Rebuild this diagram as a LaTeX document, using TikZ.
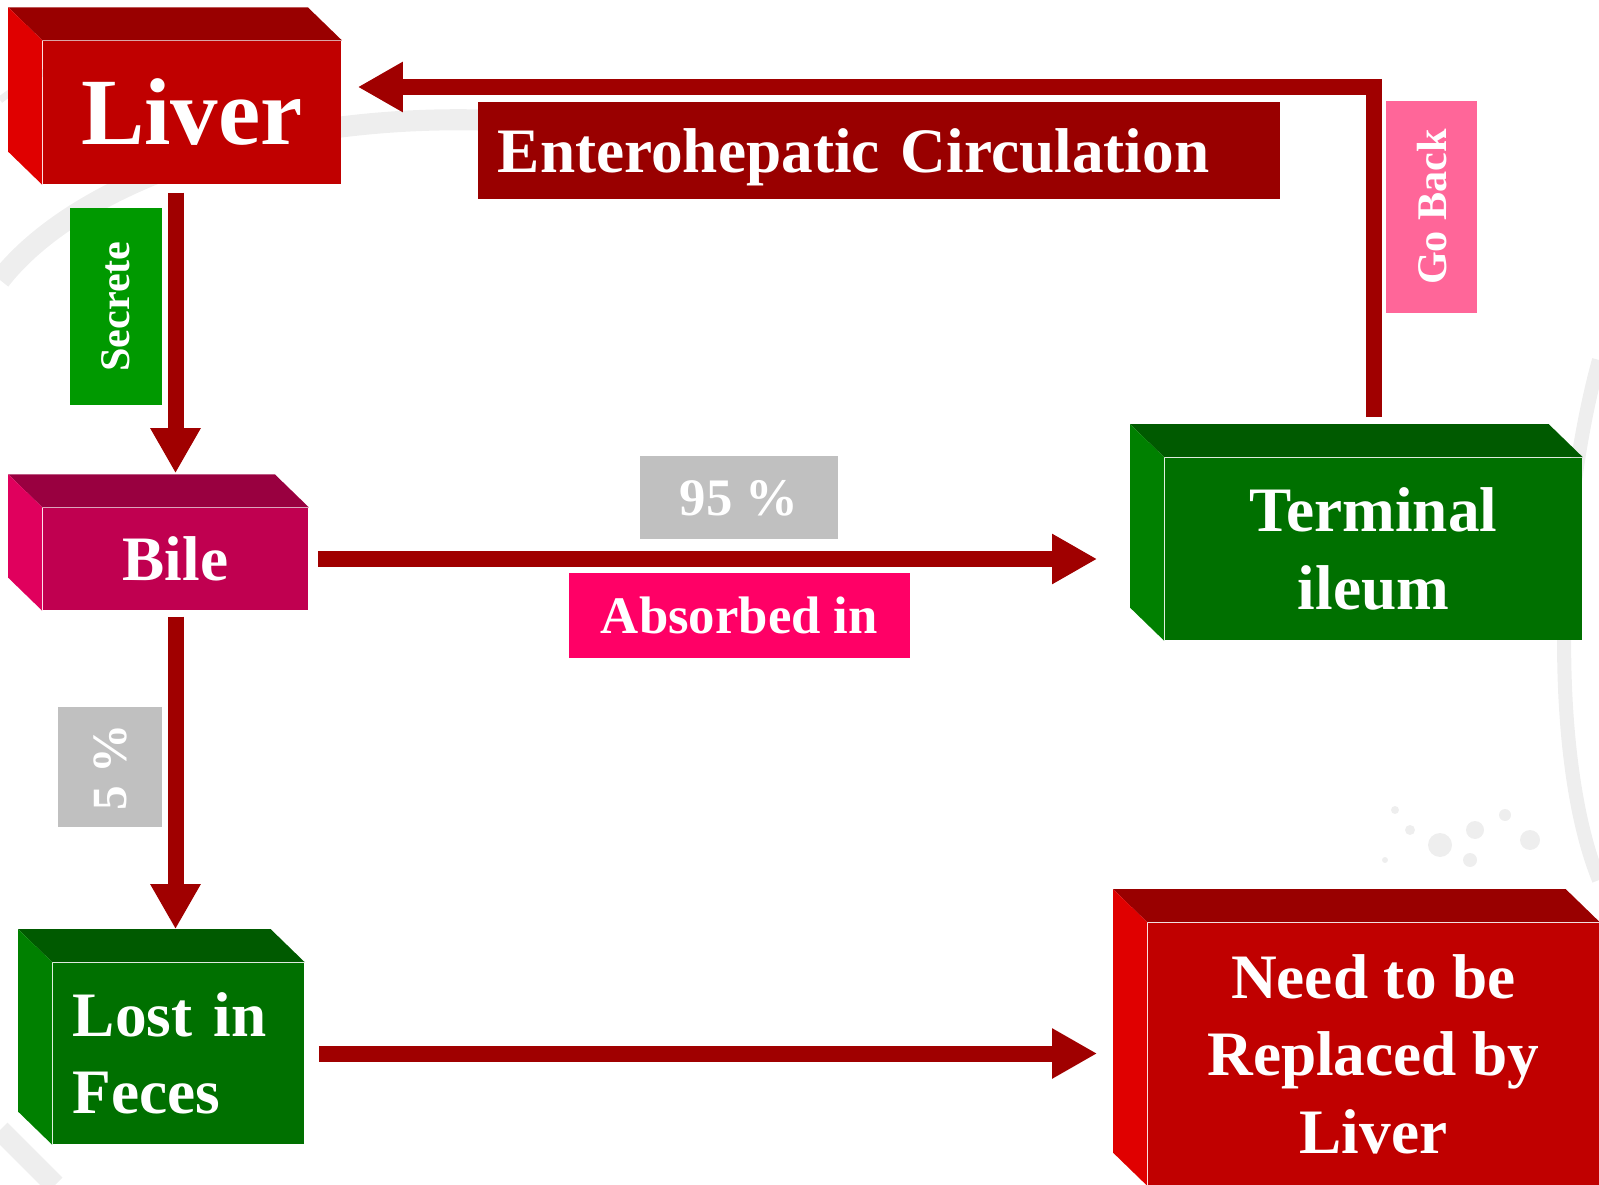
\documentclass[tikz,border=0pt]{standalone}
\usepackage{fontspec}
\setmainfont{Liberation Serif}
\usetikzlibrary{arrows.meta}

\definecolor{redfront}{HTML}{C00000}
\definecolor{redtop}{HTML}{990000}
\definecolor{redleft}{HTML}{E00000}
\definecolor{bilefront}{HTML}{C00050}
\definecolor{biletop}{HTML}{990040}
\definecolor{bileleft}{HTML}{E0005D}
\definecolor{greenfront}{HTML}{007000}
\definecolor{greentop}{HTML}{005A00}
\definecolor{greenleft}{HTML}{008000}
\definecolor{arrowred}{HTML}{A00000}
\definecolor{circred}{HTML}{990000}
\definecolor{gobackpink}{HTML}{FF6699}
\definecolor{secretegreen}{HTML}{009900}
\definecolor{pctgray}{HTML}{C0C0C0}
\definecolor{absorbpink}{HTML}{FF0066}
\definecolor{swirl}{HTML}{EEEEEE}

\begin{document}
\begin{tikzpicture}[x=0.01cm,y=-0.01cm,
    box/.style={text=white,inner sep=0pt,align=center,font=\fontsize{18}{22}\selectfont\bfseries},
    tag/.style={text=white,inner sep=0pt,text depth=0pt,font=\fontsize{15}{18}\selectfont\bfseries},
    small/.style={font=\fontsize{12}{14}\selectfont\bfseries},
    flow/.style={draw=arrowred,line width=4.55pt,-{Triangle[length=12.8pt,width=13.4pt]}}]
    \useasboundingbox (0,0) rectangle (1599,1185);

    %% background swirls
    \draw[swirl,line width=6pt] (0,280) .. controls (70,190) and (250,115) .. (480,120);
    \draw[swirl,line width=2pt] (0,100) .. controls (20,85) and (40,72) .. (70,62);
    \draw[swirl,line width=4pt] (1599,360) .. controls (1555,520) and (1550,760) .. (1599,880);
    \draw[swirl,line width=6pt] (0,1130) .. controls (25,1155) and (40,1170) .. (55,1185);
    \foreach \px/\py/\r in {1440/845/12,1475/830/9,1505/815/6,1410/830/5,1470/860/7,1530/840/10,1395/810/4,1385/860/3} {
      \fill[swirl] (\px,\py) circle[radius=\r];
    }

    %% blocks
    \node[box,fill=redfront,minimum width=2.98cm,minimum height=1.43cm,font=\fontsize{27}{32}\selectfont\bfseries] (liver) at (192,112.5) {Liver};
    \node[box,fill=bilefront,minimum width=2.65cm,minimum height=1.02cm] (bile) at (175.5,559) {Bile};
    \node[box,fill=greenfront,minimum width=4.17cm,minimum height=1.82cm] (ileum) at (1373.5,549) {Terminal\\ileum};
    \node[box,fill=greenfront,minimum width=2.51cm,minimum height=1.81cm,align=left,text width=2.11cm] (feces) at (178.5,1053.5) {Lost in\\Feces};
    \node[box,fill=redfront,minimum width=4.51cm,minimum height=2.62cm] (replace) at (1373.5,1054) {Need to be\\Replaced by\\Liver};

    %% 3d sides
    \foreach \n/\tc/\lc in {liver/redtop/redleft,bile/biletop/bileleft,ileum/greentop/greenleft,feces/greentop/greenleft,replace/redtop/redleft} {
      \fill[\tc] (\n.north west) -- ++(-34,-33) -- ([shift={(-34,-33)}]\n.north east) -- (\n.north east) -- cycle;
      \fill[\lc] (\n.north west) -- ++(-34,-33) -- ([shift={(-34,-33)}]\n.south west) -- (\n.south west) -- cycle;
    }

    %% labels
    \node[tag,fill=circred,minimum width=8.02cm,minimum height=0.97cm,text width=7.62cm,align=left,font=\fontsize{18}{22}\selectfont\bfseries] (circ) at (879,150.5) {Enterohepatic Circulation};
    \node[tag,small,fill=gobackpink,rotate=90,minimum width=2.12cm,minimum height=0.91cm] (goback) at (1431.5,207) {Go Back};
    \node[tag,small,fill=secretegreen,rotate=90,minimum width=1.97cm,minimum height=0.92cm] (secrete) at (116,306.5) {Secrete};
    \node[tag,fill=pctgray,minimum width=1.98cm,minimum height=0.83cm] (most) at (739,497.5) {95 \%};
    \node[tag,fill=absorbpink,minimum width=3.41cm,minimum height=0.85cm] (absorbed) at (739.5,615.5) {Absorbed in};
    \node[tag,fill=pctgray,rotate=90,minimum width=1.20cm,minimum height=1.04cm,font=\fontsize{14}{16}\selectfont\bfseries] (few) at (110,767) {5 \%};

    %% arrows
    \draw[flow,shorten <=0.08cm,shorten >=0.34cm] (bile.north |- liver.south) -- (bile.north);
    \draw[flow,shorten <=0.09cm,shorten >=0.67cm] (bile.east) -- (bile.east -| ileum.west);
    \draw[flow,shorten <=0.06cm,shorten >=0.33cm] (bile.south) -- (bile.south |- feces.north);
    \draw[flow,shorten <=0.14cm,shorten >=0.50cm] (feces.east) -- (feces.east -| replace.west);
    %% back to the liver
    \coordinate (corner) at (1374,87);
    \draw[flow,shorten >=0.16cm] ([yshift=0.4cm]ileum.north) |- (corner -| liver.east);
\end{tikzpicture}
\end{document}
